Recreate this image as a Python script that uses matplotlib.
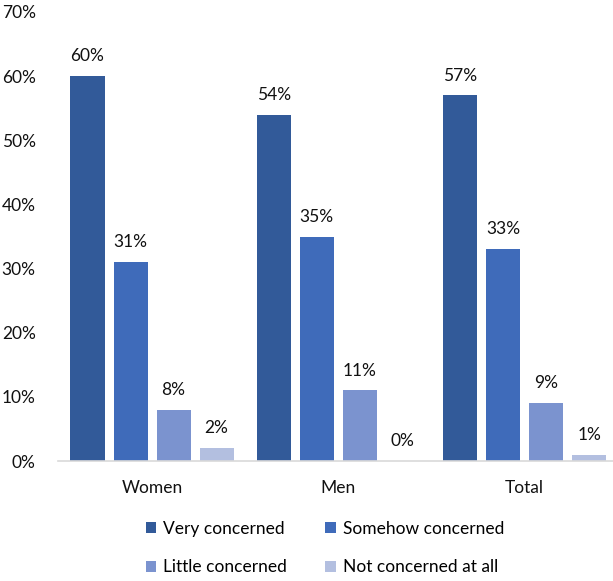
import numpy as np
import matplotlib.pyplot as plt
from matplotlib.ticker import FuncFormatter

groups = ["Women", "Men", "Total"]
levels = ["Very concerned", "Somehow concerned", "Little concerned", "Not concerned at all"]
values = {
    "Very concerned": [60, 54, 57],
    "Somehow concerned": [31, 35, 33],
    "Little concerned": [8, 11, 9],
    "Not concerned at all": [2, 0, 1],
}
colors = ["#325A99", "#3F6BBA", "#7B93CF", "#B3BFE0"]

plt.rcParams['font.family'] = ['Lato', 'DejaVu Sans']
fs = 12.5

fig = plt.figure(figsize=(6.13, 5.81), dpi=100)
ax = fig.add_axes([58/613, 120/581, 1 - 58/613, 449/581])

x = np.arange(len(groups))
width = 0.183
step = 0.231
handles = []
for i, lvl in enumerate(levels):
    pos = x + (i - 1.5) * step
    bars = ax.bar(pos, values[lvl], width, color=colors[i], label=lvl)
    handles.append(bars)
    for b, v in zip(bars, values[lvl]):
        ax.text(b.get_x() + b.get_width()/2, v + 3.1, f"{v}%",
                ha='center', va='center', fontsize=fs, color='#111111')

ax.set_xlim(-0.505, 2.475)
ax.set_ylim(0, 70)
ax.set_yticks(range(0, 71, 10))
ax.yaxis.set_major_formatter(FuncFormatter(lambda v, p: f"{int(v)}%"))
ax.set_xticks(x)
ax.set_xticklabels(groups)
ax.tick_params(axis='both', length=0, labelsize=fs, colors='#111111')
ax.tick_params(axis='y', pad=16)
ax.tick_params(axis='x', pad=14)
for s in ['top', 'right', 'left']:
    ax.spines[s].set_visible(False)
ax.spines['bottom'].set_color('#D9D9D9')
ax.spines['bottom'].set_linewidth(1.2)

# row-major order for the two-column legend
order = [0, 2, 1, 3]
fig.legend([handles[k] for k in order], [levels[k] for k in order],
           loc='center', bbox_to_anchor=(0.53, 0.057), ncol=2, frameon=False,
           fontsize=fs, handlelength=0.6, handleheight=0.6, handletextpad=0.4,
           columnspacing=2.2, labelspacing=1.3)

fig.savefig("out.png", dpi=100)
